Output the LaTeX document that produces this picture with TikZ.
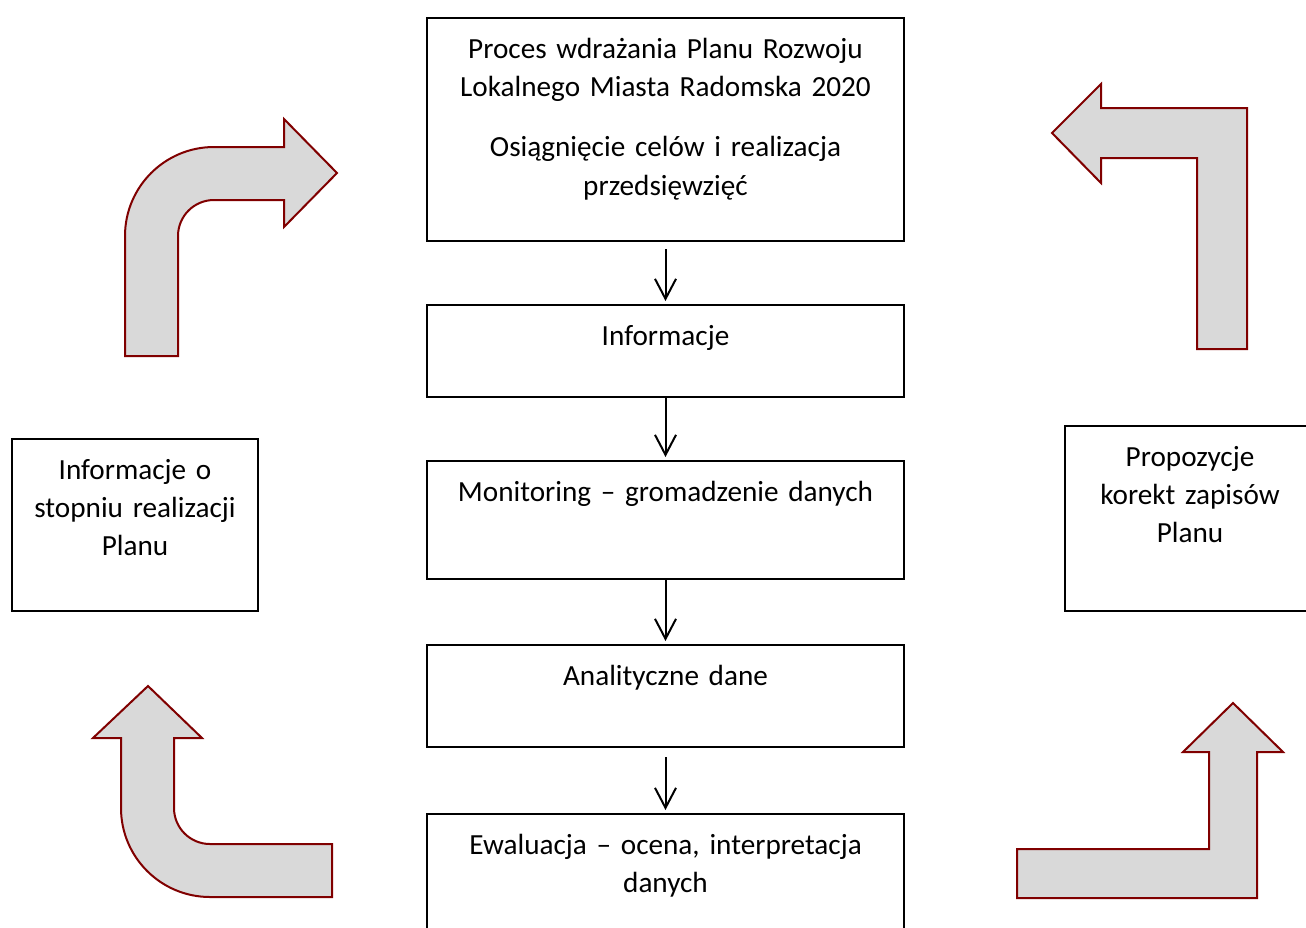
\documentclass[tikz,border=0pt]{standalone}
\usepackage{fontspec}
\setmainfont{Carlito}
\usepackage{tikz}
\usetikzlibrary{arrows.meta}
\usetikzlibrary{positioning}
\definecolor{arrowred}{HTML}{800000}
\definecolor{arrowgray}{HTML}{D9D9D9}

\begin{document}
\begin{tikzpicture}[
    x=0.5pt, y=-0.5pt,
    font=\fontsize{14.6}{19.2}\selectfont,
    box/.style={rectangle, draw=black, line width=1pt, anchor=north,
               text width=#1, align=center, inner xsep=6pt, inner ysep=6pt,
               text height=14pt},
    arrow/.style={-{Straight Barb[length=10pt,width=10.5pt]}, line width=1pt,
                 draw=black, shorten >=1.5pt},
    bigarrow/.style={draw=arrowred, fill=arrowgray, line width=1pt, line join=miter}
]
\useasboundingbox (0,0) rectangle (1306,927);
\clip (0,0) rectangle (1306,927);

% Main process column
\node[box=226.5pt, text depth=85.5pt] (plan) at (665.5,17) {Proces wdrażania Planu Rozwoju\\Lokalnego Miasta Radomska 2020\\[11pt]Osiągnięcie celów i realizacja\\przedsięwzięć};
\node[box=226.5pt, text depth=20pt, below=31pt of plan] (info) {Informacje};
\node[box=226.5pt, text depth=33pt, below=31pt of info] (monitoring) {Monitoring – gromadzenie danych};
\node[box=226.5pt, text depth=25pt, below=32pt of monitoring] (dane) {Analityczne dane};
\node[box=226.5pt, text depth=44pt, below=32.5pt of dane] (ewaluacja) {Ewaluacja – ocena, interpretacja\\danych};

% Side boxes
\node[box=111pt, text depth=60pt] (stopien) at (135,438) {Informacje o\\stopniu realizacji\\Planu};
\node[box=113pt, text depth=66.5pt] (korekty) at (1190,425) {Propozycje\\korekt zapisów\\Planu};

% Flow arrows
\draw[arrow, shorten <=3.5pt] (plan) -- (info);
\draw[arrow] (info) -- (monitoring);
\draw[arrow] (monitoring) -- (dane);
\draw[arrow, shorten <=4.5pt] (dane) -- (ewaluacja);

% Cycle arrows
\draw[bigarrow] (125,356) -- (125,236) arc[start angle=180, end angle=90, radius=44.5pt]
    -- (284,147) -- (284,119) -- (337,173) -- (284,227) -- (284,200) -- (214,200)
    arc[start angle=90, end angle=180, radius=18pt] -- (178,356) -- cycle;
\draw[bigarrow] (1247,349) -- (1247,108) -- (1101,108) -- (1101,84) -- (1052,133)
    -- (1101,183) -- (1101,158) -- (1197,158) -- (1197,349) -- cycle;
\draw[bigarrow] (1017,849) -- (1209,849) -- (1209,752) -- (1183,752) -- (1233,703)
    -- (1283,752) -- (1257,752) -- (1257,898) -- (1017,898) -- cycle;
\draw[bigarrow] (332,897) -- (210,897) arc[start angle=270, end angle=180, radius=44.5pt]
    -- (121,738) -- (93,738) -- (148,686) -- (202,738) -- (174,738) -- (174,808)
    arc[start angle=180, end angle=270, radius=18pt] -- (332,844) -- cycle;

\end{tikzpicture}
\end{document}
